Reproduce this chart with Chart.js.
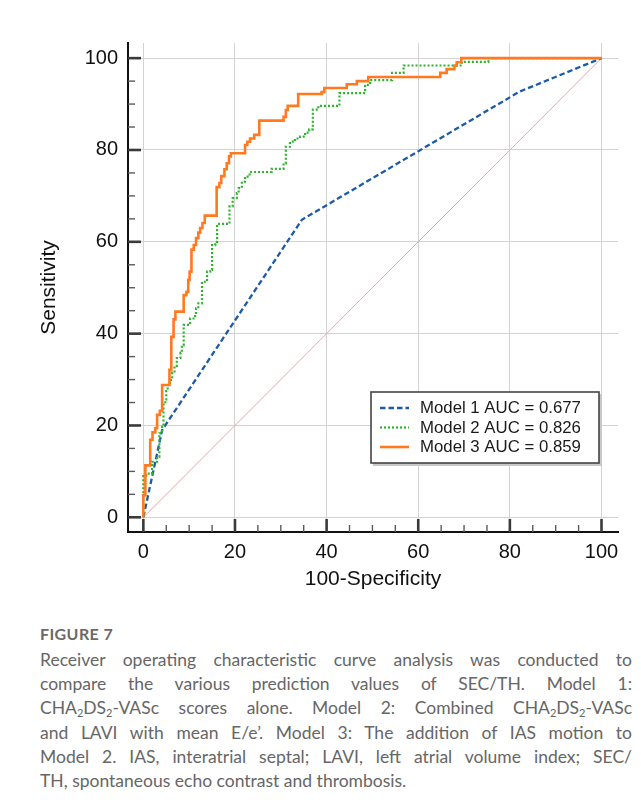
<!DOCTYPE html>
<html><head><meta charset="utf-8">
<script src="https://cdn.jsdelivr.net/npm/chart.js@4.4.1/dist/chart.umd.min.js"></script>
<style>
html,body{margin:0;padding:0;background:#fff;}
body{width:641px;height:812px;position:relative;overflow:hidden;}
#wrap{position:absolute;left:0;top:0;width:641px;height:600px;}
#cap{position:absolute;left:40px;top:622px;width:592px;font-family:Lato,'Open Sans',sans-serif;color:#666;}
.fig{font-size:16px;font-weight:700;letter-spacing:0.4px;line-height:24px;color:#6a6a6a;margin-bottom:2px;}
.ln{font-size:17.5px;line-height:24.2px;white-space:nowrap;text-align:justify;text-align-last:justify;}
.ln.last{text-align-last:left;}
sub{font-size:11px;line-height:0;vertical-align:-3px;}
</style></head>
<body>
<div id="wrap"><canvas id="c" width="641" height="600"></canvas></div>
<div id="cap">
<div class="fig">FIGURE 7</div>
<div class="ln">Receiver operating characteristic curve analysis was conducted to</div>
<div class="ln">compare the various prediction values of SEC/TH. Model 1:</div>
<div class="ln">CHA<sub>2</sub>DS<sub>2</sub>-VASc scores alone. Model 2: Combined CHA<sub>2</sub>DS<sub>2</sub>-VASc</div>
<div class="ln">and LAVI with mean E/e’. Model 3: The addition of IAS motion to</div>
<div class="ln">Model 2. IAS, interatrial septal; LAVI, left atrial volume index; SEC/</div>
<div class="ln last">TH, spontaneous echo contrast and thrombosis.</div>
</div>
<script>
// ---- data (100-Specificity = x, Sensitivity = y) ----
const legendLabels = ['Model 1 AUC = 0.677', 'Model 2 AUC = 0.826', 'Model 3 AUC = 0.859'];
const majorTicks = [0, 20, 40, 60, 80, 100];
const allTicks = [0, 5, 10, 15, 20, 25, 30, 35, 40, 45, 50, 55, 60, 65, 70, 75, 80, 85, 90, 95, 100];

const model1Fpr = [0, 4.1, 34.6, 82.1, 100];
const model1Tpr = [0, 19.0, 64.8, 92.7, 100];

const model2Fpr = [0, 0, 0.6, 1.9, 3.0, 3.5, 4.1, 4.4, 4.8, 5.0, 5.3, 5.8, 6.3, 6.8, 7.3, 8.1, 8.4, 8.8, 10.2, 11.3, 11.5, 12.0, 12.8, 13.9, 14.6, 15.0, 15.7, 16.1, 18.8, 19.5, 20.4, 20.8, 21.5, 22.2, 23.2, 28.0, 30.6, 31.1, 32.0, 33.1, 34.2, 35.3, 36.2, 37.0, 38.2, 42.8, 48.4, 49.5, 54.3, 56.8, 69.5, 75.3, 100];
const model2Tpr = [0, 9.0, 9.5, 12.1, 13.2, 18.3, 19.7, 24.8, 25.7, 27.5, 28.8, 29.9, 31.5, 33.0, 34.7, 35.8, 37.5, 41.9, 43.3, 44.1, 45.5, 46.6, 51.3, 53.5, 53.9, 59.3, 60.0, 63.9, 67.7, 69.5, 70.6, 71.7, 73.1, 74.2, 75.2, 75.9, 77.1, 80.7, 81.8, 82.5, 82.9, 83.8, 84.5, 88.8, 89.6, 92.4, 94.2, 95.2, 96.8, 98.4, 99.2, 100, 100];

const model3Fpr = [0, 0, 0.44, 1.5, 2.0, 2.6, 3.0, 3.6, 4.1, 5.7, 6.1, 6.6, 7.0, 8.8, 9.4, 9.8, 10.1, 10.5, 11.0, 11.5, 12.0, 12.4, 12.9, 13.4, 16.0, 16.6, 17.0, 17.7, 18.2, 18.7, 19.1, 22.2, 22.7, 23.3, 24.2, 25.3, 30.6, 31.1, 31.5, 33.8, 38.9, 39.5, 44.4, 46.6, 49.1, 64.8, 66.2, 67.9, 68.4, 69.4, 100];
const model3Tpr = [0, 4.8, 11.3, 16.9, 18.5, 19.4, 22.3, 23.2, 28.8, 32.1, 39.3, 43.1, 44.8, 48.4, 49.1, 51.7, 53.5, 58.3, 59.3, 60.8, 62.0, 63.0, 64.1, 65.7, 71.9, 72.8, 74.3, 75.8, 77.1, 78.6, 79.3, 81.1, 81.8, 82.5, 83.3, 86.4, 87.2, 88.7, 89.6, 92.2, 92.6, 93.5, 94.3, 95.0, 95.9, 96.8, 97.6, 98.4, 99.1, 100, 100];

const refX = [0, 100];
const refY = [0, 100];

const toPts = (xs, ys) => xs.map((x, i) => ({x: x, y: ys[i]}));

Chart.defaults.font.family = "'Liberation Sans', Arial, Helvetica, sans-serif";
Chart.defaults.color = '#111';

const innerTicks = {
  id: 'innerTicks',
  afterDraw(chart) {
    const {ctx, chartArea, scales} = chart;
    ctx.save();
    ctx.lineCap = 'butt';
    for (const t of scales.x.ticks) {
      const v = t.value;
      const major = majorTicks.includes(v);
      const px = scales.x.getPixelForValue(v);
      ctx.strokeStyle = major ? '#3a3a3a' : '#5a5a5a';
      ctx.lineWidth = major ? 2.6 : 1.4;
      ctx.beginPath();
      ctx.moveTo(px, chartArea.bottom);
      ctx.lineTo(px, chartArea.bottom - (major ? 13 : 7));
      ctx.stroke();
    }
    for (const t of scales.y.ticks) {
      const v = t.value;
      const major = majorTicks.includes(v);
      const py = scales.y.getPixelForValue(v);
      ctx.strokeStyle = major ? '#3a3a3a' : '#5a5a5a';
      ctx.lineWidth = major ? 2.6 : 1.4;
      ctx.beginPath();
      ctx.moveTo(chartArea.left, py);
      ctx.lineTo(chartArea.left + (major ? 13 : 7), py);
      ctx.stroke();
    }
    ctx.restore();
  }
};

const boxLegend = {
  id: 'boxLegend',
  afterDraw(chart) {
    const {ctx, chartArea} = chart;
    const left = chartArea.right - 247, top = chartArea.bottom - 140, w = 228, h = 71;
    ctx.save();
    ctx.fillStyle = '#c8c8c8';
    ctx.fillRect(left + 2, top + 2, w + 1, h + 1);
    ctx.fillStyle = '#fff';
    ctx.fillRect(left, top, w, h);
    ctx.strokeStyle = '#444';
    ctx.lineWidth = 1.6;
    ctx.strokeRect(left, top, w, h);
    const rows = [16, 35.5, 55];
    const sets = chart.data.datasets.filter(d => legendLabels.includes(d.label));
    sets.sort((a, b) => legendLabels.indexOf(a.label) - legendLabels.indexOf(b.label));
    sets.forEach((d, i) => {
      const yy = top + rows[i];
      ctx.strokeStyle = d.borderColor;
      ctx.lineWidth = d.borderWidth;
      ctx.setLineDash(d.borderDash || []);
      ctx.beginPath();
      ctx.moveTo(left + 9, yy);
      ctx.lineTo(left + 38, yy);
      ctx.stroke();
      ctx.setLineDash([]);
      ctx.fillStyle = '#1a1a1a';
      ctx.font = "16.8px 'Liberation Sans', Arial, sans-serif";
      ctx.textBaseline = 'middle';
      ctx.textAlign = 'left';
      ctx.fillText(d.label, left + 49, yy + 0.5);
    });
    ctx.restore();
  }
};

const gridColor = (c) => (c.tick && majorTicks.includes(c.tick.value)) ? '#d3d3d3' : 'rgba(0,0,0,0)';
const tickLabel = (v) => majorTicks.includes(v) ? String(v) : '';
const setTicks = (s) => { s.ticks = allTicks.map(v => ({value: v})); };

new Chart(document.getElementById('c'), {
  type: 'line',
  data: {
    datasets: [
      {label: legendLabels[0], data: toPts(model1Fpr, model1Tpr), borderColor: '#1d5ba8', borderWidth: 2.3, borderDash: [5.5, 3], pointRadius: 0, tension: 0, fill: false, order: 2},
      {label: legendLabels[1], data: toPts(model2Fpr, model2Tpr), borderColor: '#2eb32e', borderWidth: 2.2, borderDash: [2, 2], pointRadius: 0, stepped: 'before', fill: false, order: 1},
      {label: legendLabels[2], data: toPts(model3Fpr, model3Tpr), borderColor: '#ff7a1f', borderWidth: 2.6, pointRadius: 0, stepped: 'before', fill: false, order: 0},
      {label: 'Reference', data: toPts(refX, refY), borderColor: '#eaa3a3', borderWidth: 1, pointRadius: 0, tension: 0, fill: false, order: 3}
    ]
  },
  options: {
    responsive: false,
    animation: false,
    devicePixelRatio: 1,
    layout: {padding: {left: 0, top: 43, right: 23, bottom: 0}},
    plugins: {legend: {display: false}, tooltip: {enabled: false}},
    scales: {
      x: {
        type: 'linear', min: -3.35, max: 103.6,
        afterBuildTicks: setTicks,
        ticks: {stepSize: 5, autoSkip: false, maxRotation: 0, padding: 8, callback: tickLabel, font: {size: 20}, color: '#111'},
        grid: {color: gridColor, lineWidth: 1, drawTicks: false},
        border: {display: true, color: '#111', width: 2},
        title: {display: true, text: '100-Specificity', font: {size: 21}, color: '#111', padding: {top: 0, bottom: 8}},
        afterFit: (s) => { s.height = 68; }
      },
      y: {
        type: 'linear', min: -3.2, max: 103.3,
        afterBuildTicks: setTicks,
        ticks: {stepSize: 5, autoSkip: false, padding: 10, callback: tickLabel, font: {size: 20}, color: '#111'},
        grid: {color: gridColor, lineWidth: 1, drawTicks: false},
        border: {display: true, color: '#111', width: 2},
        title: {display: true, text: 'Sensitivity', font: {size: 21}, color: '#111', padding: {top: 37, bottom: 0}},
        afterFit: (s) => { s.width = 128; }
      }
    }
  },
  plugins: [innerTicks, boxLegend]
});
</script>
</body></html>
